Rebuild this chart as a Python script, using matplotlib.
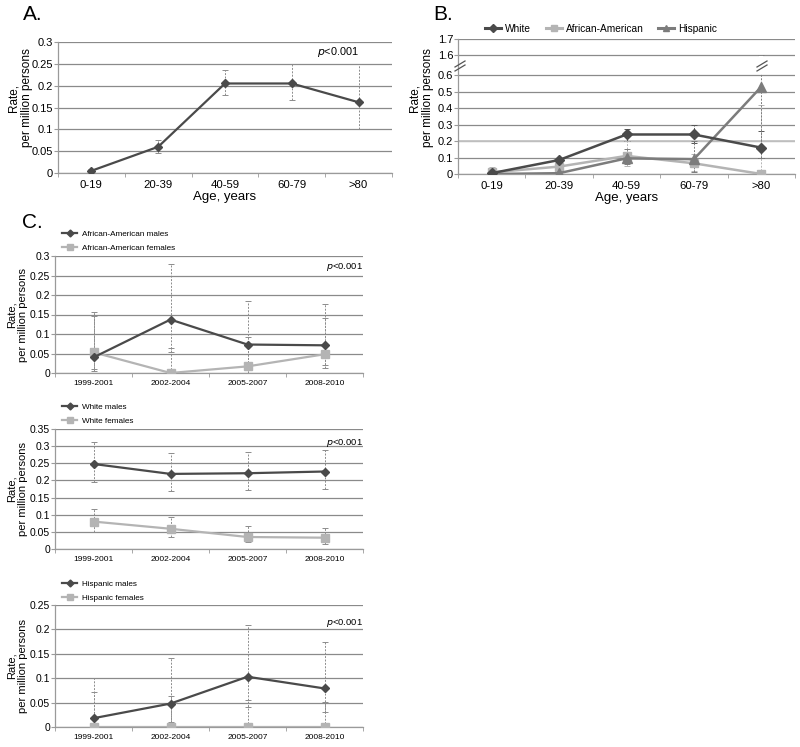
import numpy as np
import matplotlib
matplotlib.use("Agg")
import matplotlib.pyplot as plt
from matplotlib.lines import Line2D

plt.rcParams['font.family'] = ['Liberation Sans', 'DejaVu Sans']

# ---------------- data ----------------
age_groups = ["0-19", "20-39", "40-59", "60-79", ">80"]
periods = ["1999-2001", "2002-2004", "2005-2007", "2008-2010"]

# Panel A: overall rate
a_rate = [0.005, 0.06, 0.205, 0.205, 0.162]
a_lo = [0.0, 0.045, 0.178, 0.167, 0.10]
a_hi = [0.01, 0.075, 0.237, 0.25, 0.25]

# Panel B: by race
b_white = [0.005, 0.085, 0.24, 0.24, 0.16]
b_white_lo = [0.0, 0.07, 0.20, 0.19, 0.10]
b_white_hi = [0.01, 0.10, 0.275, 0.30, 0.26]
b_aa = [0.01, 0.045, 0.11, 0.065, 0.0]
b_aa_lo = [0.0, 0.02, 0.05, 0.02, 0.0]
b_aa_hi = [0.045, 0.10, 0.20, 0.12, 0.42]
b_hisp = [0.0, 0.005, 0.095, 0.09, 0.53]
b_hisp_lo = [0.0, 0.0, 0.06, 0.015, 0.10]
b_hisp_hi = [0.03, 0.02, 0.15, 0.20, 1.60]

# Panel C: by sex within race
aa_m = [0.04, 0.137, 0.073, 0.071]
aa_m_lo = [0.005, 0.055, 0.0, 0.02]
aa_m_hi = [0.145, 0.28, 0.093, 0.14]
aa_f = [0.053, 0.0, 0.017, 0.048]
aa_f_lo = [0.01, 0.0, 0.0, 0.012]
aa_f_hi = [0.157, 0.065, 0.185, 0.178]

wh_m = [0.248, 0.219, 0.221, 0.226]
wh_m_lo = [0.195, 0.17, 0.172, 0.176]
wh_m_hi = [0.313, 0.279, 0.282, 0.288]
wh_f = [0.08, 0.059, 0.035, 0.033]
wh_f_lo = [0.05, 0.036, 0.019, 0.016]
wh_f_hi = [0.117, 0.094, 0.067, 0.061]

hi_m = [0.018, 0.048, 0.103, 0.079]
hi_m_lo = [0.0, 0.01, 0.042, 0.03]
hi_m_hi = [0.10, 0.142, 0.21, 0.175]
hi_f = [0.0, 0.0, 0.0, 0.0]
hi_f_lo = [0.0, 0.0, 0.0, 0.0]
hi_f_hi = [0.072, 0.064, 0.056, 0.051]

DARK = "#4a4a4a"
MID = "#7c7c7c"
LIGHT = "#b4b4b4"
GRID = "#8a8a8a"
ERR = "#8c8c8c"

W, H = 800, 747
fig = plt.figure(figsize=(W / 100, H / 100), dpi=100)


def ax_px(l, t, r, b):
    ax = fig.add_axes([l / W, 1 - b / H, (r - l) / W, (b - t) / H])
    ax._px_box = (l, t, r, b)
    return ax


def style(ax, n, yticks, tick_fs, ylabel_fs, label_right_px, label_center_px):
    ax.set_xlim(-0.5, n - 0.5)
    ax.set_yticks(yticks)
    ax.set_yticklabels([("%g" % v) for v in yticks], fontsize=tick_fs)
    for v in yticks:
        ax.axhline(v, color=GRID, lw=0.9, zorder=0)
    for s in ["top", "right"]:
        ax.spines[s].set_visible(False)
    for s in ["left", "bottom"]:
        ax.spines[s].set_color("#9a9a9a")
        ax.spines[s].set_linewidth(0.9)
    ax.set_xticks(range(n))
    ax.set_xticks(np.arange(-0.5, n, 1.0), minor=True)
    ax.tick_params(axis="x", which="major", length=0, pad=5)
    ax.tick_params(axis="x", which="minor", length=3, color="#9a9a9a")
    ax.tick_params(axis="y", length=3, color="#9a9a9a", pad=0.5)
    ax.set_ylabel("Rate,\nper million persons", fontsize=ylabel_fs, linespacing=1.15)
    l, t, r, b = ax._px_box
    ax.yaxis.set_label_coords((label_right_px - l) / (r - l), (b - label_center_px) / (b - t))


def errbars(ax, x, vals, lo, hi, color=ERR, ls=(0, (2, 1.5)), cap=2.5):
    vals = np.asarray(vals); lo = np.asarray(lo); hi = np.asarray(hi)
    eb = ax.errorbar(x, vals, yerr=[vals - lo, hi - vals], fmt="none", ecolor=color,
                     elinewidth=0.7, capsize=cap, capthick=0.7, zorder=2)
    for lc in eb[2]:
        lc.set_linestyle(ls)
    return eb


def break_mark(xp, yp):
    for dy in (-2.0, 2.0):
        fig.add_artist(Line2D([(xp - 5) / W, (xp + 5) / W],
                              [1 - (yp + dy + 3) / H, 1 - (yp + dy - 3) / H],
                              color="#555555", lw=0.9, zorder=10))


# ---------------- Panel A ----------------
axA = ax_px(58, 42, 392, 173)
xA = np.arange(len(age_groups))
errbars(axA, xA, a_rate, a_lo, a_hi)
axA.plot(xA, a_rate, color=DARK, lw=1.6, marker="D", ms=4.5, zorder=3)
axA.set_ylim(0, 0.3)
style(axA, 5, [0, 0.05, 0.1, 0.15, 0.2, 0.25, 0.3], 8, 8.5, 33, 98)
axA.set_xticklabels(age_groups, fontsize=8.2)
axA.set_xlabel("Age, years", fontsize=9.5, labelpad=1)
axA.text(3.38, 0.276, "$\\it{p}$<0.001", fontsize=7.8, ha="left", va="center")
fig.text(23 / W, 1 - 14 / H, "A.", fontsize=15, ha="left", va="center")

# ---------------- Panel B ----------------
axB = ax_px(458, 39, 795, 174)


def fwd(y):
    y = np.asarray(y, dtype=float)
    return np.where(y <= 0.6, y, np.where(y <= 1.6, 0.6 + (y - 0.6) * 0.12, 0.72 + (y - 1.6)))


def inv(t):
    t = np.asarray(t, dtype=float)
    return np.where(t <= 0.6, t, np.where(t <= 0.72, 0.6 + (t - 0.6) / 0.12, 1.6 + (t - 0.72)))


axB.set_yscale("function", functions=(fwd, inv))
axB.set_ylim(0, 1.7)
xB = np.arange(len(age_groups))
errbars(axB, xB, b_white, b_white_lo, b_white_hi, color="#555555")
errbars(axB, xB, b_aa, b_aa_lo, b_aa_hi, color=LIGHT)
errbars(axB, xB, b_hisp, b_hisp_lo, b_hisp_hi, color=MID)
axB.plot(xB, b_white, color=DARK, lw=1.8, marker="D", ms=5, zorder=4)
axB.plot(xB, b_aa, color=LIGHT, lw=1.8, marker="s", ms=6, zorder=3)
axB.plot(xB, b_hisp, color=MID, lw=1.8, marker="^", ms=6.5, zorder=3)
b_ticks = [0, 0.1, 0.2, 0.3, 0.4, 0.5, 0.6, 1.6, 1.7]
style(axB, 5, b_ticks, 8, 8.5, 434, 98)
axB.yaxis.set_minor_locator(matplotlib.ticker.NullLocator())
axB.set_yticks(b_ticks)
axB.set_yticklabels([("%g" % v) for v in b_ticks], fontsize=8)
axB.axhline(0.2, color="#c4c4c4", lw=1.3, zorder=1)
axB.set_xticklabels(age_groups, fontsize=8.2)
axB.set_xlabel("Age, years", fontsize=9.5, labelpad=1)
axB.plot([4, 4], [0.75, 1.45], color="white", lw=3, zorder=2.5)
break_mark(460, 66)
break_mark(762, 66)
fig.legend(handles=[
    Line2D([], [], color=DARK, lw=2.2, marker="D", ms=4.5),
    Line2D([], [], color=LIGHT, lw=2.2, marker="s", ms=4.5),
    Line2D([], [], color=MID, lw=2.2, marker="^", ms=4.5)],
    labels=["White", "African-American", "Hispanic"],
    loc="center left", bbox_to_anchor=(481 / W, 1 - 29 / H), ncol=3, frameon=False,
    fontsize=7.3, handlelength=1.6, handletextpad=0.4, columnspacing=1.4, borderaxespad=0)
fig.text(433 / W, 1 - 14 / H, "B.", fontsize=15, ha="left", va="center")

# ---------------- Panel C ----------------
fig.text(22 / W, 1 - 223 / H, "C.", fontsize=15, ha="left", va="center")


def panel_c(box, ylim, yticks, m, mlo, mhi, f, flo, fhi, labels, leg_y, p_y):
    ax = ax_px(*box)
    x = np.arange(len(periods))
    errbars(ax, x, m, mlo, mhi, cap=2.2)
    errbars(ax, x, f, flo, fhi, cap=2.2)
    ax.plot(x, f, color=LIGHT, lw=1.6, marker="s", ms=5.5, zorder=3)
    ax.plot(x, m, color=DARK, lw=1.6, marker="D", ms=4, zorder=4)
    ax.set_ylim(*ylim)
    l, t, r, b = box
    style(ax, 4, yticks, 7.5, 8, 28, (t + b) / 2)
    ax.set_xticklabels(periods, fontsize=6)
    ax.tick_params(axis="x", which="major", pad=5)
    ax.text(3.5, p_y, "$\\it{p}$<0.001", fontsize=6.8, ha="right", va="center")
    fig.legend(handles=[Line2D([], [], color=DARK, lw=1.6, marker="D", ms=3.5),
                        Line2D([], [], color=LIGHT, lw=1.6, marker="s", ms=4)],
               labels=labels, loc="center left",
               bbox_to_anchor=(59 / W, 1 - leg_y / H), ncol=1, frameon=False,
               fontsize=5.9, handlelength=1.8, handletextpad=0.6, labelspacing=0.75,
               borderaxespad=0)
    return ax


panel_c((55, 256, 363, 373), (0, 0.3), [0, 0.05, 0.1, 0.15, 0.2, 0.25, 0.3],
        aa_m, aa_m_lo, aa_m_hi, aa_f, aa_f_lo, aa_f_hi,
        ["African-American males", "African-American females"], 241, 0.272)
panel_c((55, 429, 363, 549), (0, 0.35), [0, 0.05, 0.1, 0.15, 0.2, 0.25, 0.3, 0.35],
        wh_m, wh_m_lo, wh_m_hi, wh_f, wh_f_lo, wh_f_hi,
        ["White males", "White females"], 414, 0.31)
panel_c((55, 605, 363, 727), (0, 0.25), [0, 0.05, 0.1, 0.15, 0.2, 0.25],
        hi_m, hi_m_lo, hi_m_hi, hi_f, hi_f_lo, hi_f_hi,
        ["Hispanic males", "Hispanic females"], 591, 0.213)

fig.savefig("out.png", dpi=100)
